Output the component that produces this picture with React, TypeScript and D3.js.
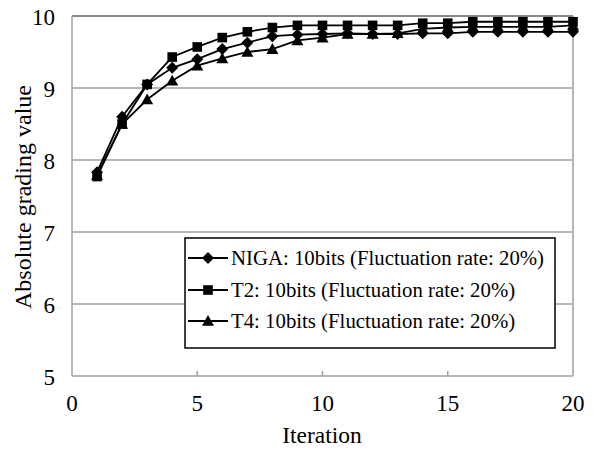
import React from "react";
import * as d3 from "d3";

const iterations = d3.range(1, 21);
const nigaValues = [7.83, 8.6, 9.05, 9.28, 9.4, 9.54, 9.63, 9.72, 9.74, 9.75, 9.76, 9.75, 9.75, 9.76, 9.76, 9.78, 9.78, 9.78, 9.78, 9.78];
const t2Values = [7.77, 8.5, 9.05, 9.43, 9.57, 9.7, 9.78, 9.84, 9.87, 9.87, 9.87, 9.87, 9.87, 9.9, 9.9, 9.92, 9.92, 9.92, 9.92, 9.92];
const t4Values = [7.79, 8.5, 8.84, 9.1, 9.31, 9.41, 9.5, 9.54, 9.66, 9.7, 9.75, 9.75, 9.76, 9.82, 9.84, 9.85, 9.85, 9.85, 9.85, 9.87];
const seriesNames = [
  "NIGA: 10bits (Fluctuation rate: 20%)",
  "T2: 10bits (Fluctuation rate: 20%)",
  "T4: 10bits (Fluctuation rate: 20%)",
];
const seriesShapes = ["diamond", "square", "triangle"];
const xTicks = [0, 5, 10, 15, 20];
const yTicks = [5, 6, 7, 8, 9, 10];

const W = 594;
const H = 450;
const left = 72;
const right = 573;
const top = 16;
const bottom = 376;
const FONT = '"Liberation Serif", "Times New Roman", "DejaVu Serif", serif';
const textStyle = { fontFamily: FONT };

function Marker({ shape, x, y }: { shape: string; x: number; y: number }) {
  if (shape === "diamond") {
    const s = 6;
    return <path d={`M${x},${y - s}L${x + s},${y}L${x},${y + s}L${x - s},${y}Z`} fill="#000" />;
  }
  if (shape === "square") {
    const s = 4.8;
    return <rect x={x - s} y={y - s} width={2 * s} height={2 * s} fill="#000" />;
  }
  const s = 6;
  return <path d={`M${x},${y - s}L${x + s},${y + s * 0.8}L${x - s},${y + s * 0.8}Z`} fill="#000" />;
}

export default function App() {
  const x = d3.scaleLinear().domain([0, 20]).range([left, right]);
  const y = d3.scaleLinear().domain([5, 10]).range([bottom, top]);
  const line = d3
    .line<number>()
    .x((_, i) => x(iterations[i]))
    .y((d) => y(d));
  const series = [nigaValues, t2Values, t4Values];

  const legX = 185;
  const legY = 238;
  const legW = 370;
  const legH = 110;
  const rowY = [258, 290, 321];

  return (
    <svg width={W} height={H} style={{ position: "absolute", left: 0, top: 0, background: "#fff" }}>
      <rect width={W} height={H} fill="#fff" />
      {yTicks.slice(1, -1).map((t) => (
        <line key={t} x1={left} x2={right} y1={y(t)} y2={y(t)} stroke="#a0a0a0" strokeWidth={1.5} />
      ))}
      <line x1={left} x2={right} y1={y(10)} y2={y(10)} stroke="#606060" strokeWidth={1.5} />
      <line x1={right} x2={right} y1={top} y2={bottom} stroke="#a0a0a0" strokeWidth={1.5} />
      <line x1={left} x2={left} y1={top} y2={bottom} stroke="#a0a0a0" strokeWidth={1.5} />
      <line x1={left} x2={right} y1={bottom} y2={bottom} stroke="#a0a0a0" strokeWidth={1.5} />
      {xTicks.slice(1, -1).map((t) => (
        <line key={t} x1={x(t)} x2={x(t)} y1={bottom} y2={bottom - 5} stroke="#a0a0a0" strokeWidth={1.5} />
      ))}
      {yTicks.map((t) => (
        <text key={t} x={55} y={y(t) + 8.5} textAnchor="end" style={textStyle} fontSize={23} fill="#000">
          {t}
        </text>
      ))}
      {xTicks.map((t) => (
        <text key={t} x={x(t)} y={411} textAnchor="middle" style={textStyle} fontSize={23} fill="#000">
          {t}
        </text>
      ))}
      <text x={322} y={443} textAnchor="middle" style={textStyle} fontSize={23.5} fill="#000">
        Iteration
      </text>
      <text
        transform={`translate(31, 197) rotate(-90)`}
        textAnchor="middle"
        style={textStyle}
        fontSize={24}
        fill="#000"
      >
        Absolute grading value
      </text>
      {series.map((vals, si) => (
        <g key={si}>
          <path d={line(vals) || ""} fill="none" stroke="#000" strokeWidth={1.8} />
          {vals.map((v, i) => (
            <Marker key={i} shape={seriesShapes[si]} x={x(iterations[i])} y={y(v)} />
          ))}
        </g>
      ))}
      <rect x={legX} y={legY} width={legW} height={legH} fill="#fff" stroke="#000" strokeWidth={1.5} />
      {seriesNames.map((name, i) => (
        <g key={name}>
          <line x1={188} x2={228} y1={rowY[i]} y2={rowY[i]} stroke="#000" strokeWidth={1.8} />
          <Marker shape={seriesShapes[i]} x={208} y={rowY[i]} />
          <text x={231} y={rowY[i] + 7} style={textStyle} fontSize={20.8} fill="#000">
            {name}
          </text>
        </g>
      ))}
    </svg>
  );
}
